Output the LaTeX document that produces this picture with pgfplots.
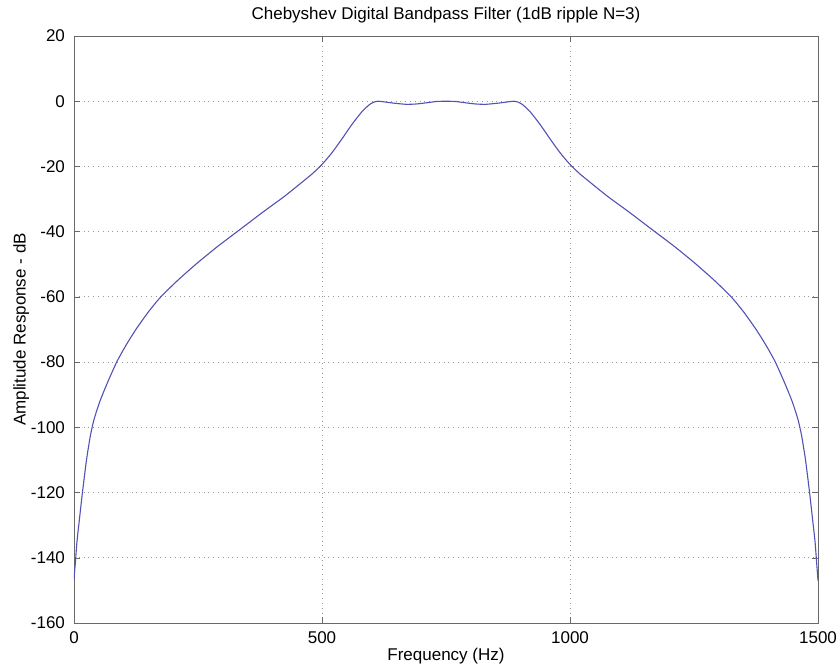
\documentclass[border=0pt]{standalone}
\usepackage{fontspec}
\setmainfont{Liberation Sans}
\usepackage{pgfplots}
\pgfplotsset{compat=1.18}

\definecolor{mlblue}{RGB}{82,82,182}
\definecolor{axgray}{RGB}{105,105,105}

% magnitude response, symmetric about 750 Hz
\pgfplotstableread{
f   db
0    -146.5
3    -141
6    -135
10   -129.5
17   -120
25   -110.2
30   -105.3
33   -102.6
36   -100.4
40   -97.8
46   -94.8
52   -92.1
59   -89.4
70   -85.4
86   -80
100  -76.1
113  -72.8
127  -69.5
150  -64.6
175  -60
210  -54.8
248  -49.7
289  -44.6
329  -40
380  -34.1
424  -29.2
460  -24.8
480  -22.3
500  -19.4
520  -15.8
540  -11.6
560  -7.2
580  -3.3
596  -1
606  -0.2
613  0
625  -0.2
645  -0.6
670  -0.95
690  -0.85
710  -0.5
730  -0.1
750  0
770  -0.1
790  -0.5
810  -0.85
830  -0.95
855  -0.6
875  -0.2
887  0
894  -0.2
904  -1
920  -3.3
940  -7.2
960  -11.6
980  -15.8
1000 -19.4
1020 -22.3
1040 -24.8
1076 -29.2
1120 -34.1
1171 -40
1211 -44.6
1252 -49.7
1290 -54.8
1325 -60
1350 -64.6
1373 -69.5
1387 -72.8
1400 -76.1
1414 -80
1430 -85.4
1441 -89.4
1448 -92.1
1454 -94.8
1460 -97.8
1464 -100.4
1467 -102.6
1470 -105.3
1475 -110.2
1483 -120
1490 -129.5
1494 -135
1497 -141
1500 -147
}\response

\begin{document}
\begin{tikzpicture}
\begin{axis}[
  name=main,
  scale only axis,
  width=372pt, height=293.5pt,
  xmin=0, xmax=1500, ymin=-160, ymax=20,
  xtick={0,500,1000,1500},
  ytick={-160,-140,...,20},
  tick align=inside,
  major tick length=3pt,
  axis line style={axgray},
  tick style={axgray},
  grid=major,
  major grid style={axgray!70, dotted, line width=0.4pt},
  font=\fontsize{8.5}{10}\selectfont,
  /pgf/number format/assume math mode=true,
  /pgf/number format/set thousands separator={},
  yticklabel style={xshift=-1pt},
  xticklabel style={yshift=-1pt},
  title={Chebyshev Digital Bandpass Filter (1dB ripple N=3)},
  title style={yshift=-3pt},
  xlabel={Frequency (Hz)},
  ylabel={Amplitude Response - dB},
  xlabel style={yshift=5pt},
  ylabel style={yshift=-6pt},
]
\addplot[mlblue, line width=0.55pt, smooth, tension=0.4] table[x=f, y=db] {\response};
\end{axis}
\pgfresetboundingbox
\path[use as bounding box] ([xshift=-37pt, yshift=-22.5pt]main.south west) rectangle ([xshift=10.5pt, yshift=18pt]main.north east);
\end{tikzpicture}
\end{document}
